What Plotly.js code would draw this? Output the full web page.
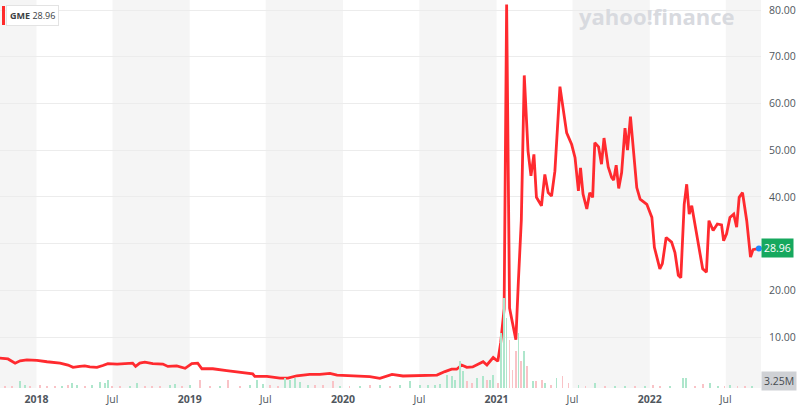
<!DOCTYPE html>
<html><head><meta charset="utf-8">
<script src="https://cdn.plot.ly/plotly-3.0.1.min.js"></script>
<style>html,body{margin:0;padding:0;background:#fff;}#chart{width:800px;height:417px;}</style>
</head><body><div id="chart"></div>
<script>
const symbol = "GME";
const lastPrice = 28.96;
const lastVolumeText = "3.25M";

const priceDates = [
"2017-10-02","2017-10-25","2017-11-11","2017-11-23","2017-12-09","2018-01-02","2018-01-26","2018-02-26","2018-03-17","2018-03-29",
"2018-04-14","2018-04-26","2018-05-08","2018-05-25","2018-06-08","2018-06-20","2018-07-12","2018-08-04","2018-08-18","2018-08-25",
"2018-09-04","2018-09-16","2018-10-05","2018-10-29","2018-11-10","2018-12-01","2018-12-21","2019-01-06","2019-01-20","2019-01-30",
"2019-02-25","2019-03-30","2019-04-23","2019-05-17","2019-05-31","2019-06-05","2019-07-04","2019-08-04","2019-08-23","2019-09-13",
"2019-10-14","2019-11-07","2019-12-01","2019-12-18","2020-01-25","2020-03-05","2020-03-29","2020-04-27","2020-05-23","2020-07-02",
"2020-08-12","2020-08-31","2020-09-16","2020-09-28","2020-10-10","2020-10-22","2020-11-05","2020-11-30","2020-12-09","2020-12-24",
"2021-01-04","2021-01-11","2021-01-19","2021-01-25","2021-02-01","2021-02-08","2021-02-16","2021-02-22","2021-03-01","2021-03-08",
"2021-03-17","2021-03-24","2021-03-31","2021-04-06","2021-04-18","2021-04-26","2021-05-04","2021-05-12","2021-05-20","2021-06-01",
"2021-06-17","2021-06-29","2021-07-07","2021-07-15","2021-07-20","2021-07-26","2021-08-04","2021-08-11","2021-08-18","2021-08-23",
"2021-09-01","2021-09-08","2021-09-14","2021-09-24","2021-10-02","2021-10-07","2021-10-13","2021-10-19","2021-10-26","2021-11-03",
"2021-11-09","2021-11-16","2021-11-23","2021-12-01","2021-12-09","2021-12-25","2022-01-06","2022-01-12","2022-01-25","2022-01-31",
"2022-02-09","2022-02-22","2022-03-02","2022-03-10","2022-03-16","2022-03-24","2022-03-30","2022-04-05","2022-04-11","2022-04-21",
"2022-04-29","2022-05-07","2022-05-16","2022-05-22","2022-06-01","2022-06-11","2022-06-21","2022-06-26","2022-07-03","2022-07-11",
"2022-07-20","2022-07-27","2022-08-02","2022-08-10","2022-08-20","2022-08-29","2022-09-04","2022-09-13","2022-09-18"
];
const priceValues = [
5.5,5.3,4.4,4.9,5.1,5.0,4.7,4.4,4.0,3.5,
3.7,3.8,3.6,3.5,3.9,4.3,4.2,4.3,4.4,3.7,
4.4,4.6,4.3,4.2,3.7,3.8,3.3,4.3,4.4,3.2,
3.2,2.8,2.55,2.4,2.1,1.55,1.55,1.2,1.2,1.7,
2.0,2.0,2.2,1.85,1.7,1.5,1.15,2.0,1.65,1.7,
1.85,2.6,3.1,3.1,4.0,3.5,3.6,4.7,4.0,5.6,
4.8,8.9,16.0,81.2,16.2,13.0,9.4,22.0,35.0,66.0,
49.8,44.5,49.1,39.9,38.1,44.8,40.9,40.2,45.5,63.6,
53.7,51.2,48.4,41.3,46.2,40.6,37.4,40.9,39.9,51.6,
50.7,47.0,52.6,46.4,44.2,43.6,46.8,41.8,45.2,54.7,
50.0,57.2,49.8,42.0,39.5,38.4,35.6,29.2,24.6,25.7,
31.3,30.3,28.1,23.2,22.7,38.4,42.7,36.3,38.1,32.8,
28.9,24.6,23.9,34.9,32.8,34.2,34.0,30.6,32.1,35.6,
36.3,33.5,39.9,40.9,34.9,27.1,28.7,28.9,28.96
];

// volume in millions of shares
const volDates = [
"2017-10-18","2017-11-03","2017-11-22","2017-12-04","2017-12-16","2018-01-09","2018-01-26","2018-02-14","2018-03-03","2018-03-17",
"2018-03-27","2018-04-07","2018-04-26","2018-05-13","2018-06-01","2018-06-13","2018-06-20","2018-06-30","2018-07-19","2018-08-12",
"2018-08-28","2018-09-16","2018-10-03","2018-10-22","2018-11-15","2018-11-27","2018-12-14","2019-01-02","2019-01-25","2019-02-18",
"2019-03-14","2019-04-02","2019-04-30","2019-05-24","2019-06-10","2019-06-24","2019-07-11","2019-07-30","2019-08-16","2019-08-28",
"2019-09-09","2019-09-21","2019-10-10","2019-10-26","2019-11-14","2019-12-08","2019-12-25","2020-01-17","2020-02-10","2020-03-05",
"2020-03-29","2020-04-22","2020-05-16","2020-06-08","2020-07-02","2020-07-21","2020-08-07","2020-08-19","2020-09-05","2020-09-17",
"2020-09-24","2020-10-06","2020-10-13","2020-10-22","2020-11-03","2020-11-15","2020-11-30","2020-12-09","2020-12-16","2020-12-24",
"2021-01-04","2021-01-11","2021-01-19","2021-01-25","2021-02-01","2021-02-08","2021-02-16","2021-02-22","2021-03-01","2021-03-08",
"2021-03-15","2021-03-29","2021-04-05","2021-04-19","2021-04-26","2021-05-10","2021-05-24","2021-06-07","2021-06-21","2021-07-15",
"2021-08-01","2021-08-23","2021-09-16","2021-10-10","2021-11-03","2021-11-27","2021-12-20","2022-01-08","2022-01-25","2022-02-18",
"2022-03-21","2022-03-28","2022-04-18","2022-05-08","2022-05-24","2022-06-12","2022-06-28","2022-07-11","2022-07-29","2022-08-16",
"2022-09-01"
];
const volValues = [
16,16,56,24,16,24,16,16,16,24,
40,24,16,24,48,40,64,16,16,16,
40,16,16,16,24,32,16,24,64,16,
16,64,16,24,64,32,24,16,80,64,
80,48,24,24,24,56,16,16,16,24,
24,16,24,56,24,24,24,32,104,96,
64,216,136,56,40,80,96,64,64,104,
40,440,720,560,384,144,296,440,216,296,
176,56,56,64,40,24,80,96,40,24,
16,40,16,16,16,16,16,24,16,16,
80,80,16,32,40,16,16,24,16,16,
16
];
const volUp = [
0,0,1,1,0,0,0,0,1,0,
1,1,0,1,1,1,1,0,0,1,
1,0,0,0,1,1,0,1,0,0,
1,0,0,1,1,1,0,0,1,1,
1,1,1,0,0,0,1,0,1,0,
1,0,1,1,1,1,1,1,1,1,
1,1,1,0,0,1,1,0,1,1,
0,1,1,1,0,0,0,1,0,1,
0,1,0,0,1,0,1,0,0,1,
0,1,0,1,1,0,1,0,0,1,
1,1,0,0,1,1,0,1,0,0,
1
];

const xTickVals = ["2018-01-01","2018-07-01","2019-01-01","2019-07-01","2020-01-01","2020-07-01","2021-01-01","2021-07-01","2022-01-01","2022-07-01"];
const xTickText = ["2018","Jul","2019","Jul","2020","Jul","2021","Jul","2022","Jul"];
const yTickVals = [10,20,30,40,50,60,70,80];

const xRange = ["2017-10-06","2022-09-23"];
const yRange = [-0.92, 82.15];

const up = "#aee6cc", down = "#f9c3c7";
const volColors = volUp.map(u => u ? up : down);

const shapes = [];
shapes.push({type:"rect", xref:"x", yref:"paper", x0:xRange[0], x1:xTickVals[0], y0:0, y1:1, fillcolor:"#f5f5f5", line:{width:0}, layer:"below"});
xTickVals.forEach((v,i)=>{
  if (xTickText[i]==="Jul") {
    const end = (i+1 < xTickVals.length) ? xTickVals[i+1] : xRange[1];
    shapes.push({type:"rect", xref:"x", yref:"paper", x0:v, x1:end, y0:0, y1:1, fillcolor:"#f5f5f5", line:{width:0}, layer:"below"});
  }
});
shapes.push({type:"rect", xref:"paper", yref:"paper", x0:0.0026, x1:0.0066, y0:1-25/388, y1:1-6/388, fillcolor:"#ff2a2a", line:{width:0}});

const traces = [
  {type:"bar", x:volDates, y:volValues, yaxis:"y2", marker:{color:volColors, line:{width:0}}, width:4*86400000, hoverinfo:"skip"},
  {type:"scatter", mode:"lines", x:priceDates, y:priceValues, line:{color:"#ff2a2f", width:2.8, shape:"linear"}, hoverinfo:"skip"},
  {type:"scatter", mode:"markers", x:[priceDates[priceDates.length-1]], y:[priceValues[priceValues.length-1]], marker:{color:"#1e88ff", size:6}, hoverinfo:"skip", cliponaxis:false}
];

const tickFont = {family:"Open Sans, Roboto, sans-serif", size:10.5, color:"#50575e"};
const yTickText = yTickVals.map(v => Math.abs(v - lastPrice) < 4 ? "" : v.toFixed(2));

const layout = {
  width:800, height:417,
  margin:{l:0, r:39, t:0, b:29},
  paper_bgcolor:"#ffffff", plot_bgcolor:"#ffffff",
  showlegend:false, bargap:0,
  xaxis:{type:"date", range:xRange, tickvals:xTickVals,
    ticktext:xTickText.map(t => t==="Jul" ? t : "<b>"+t+"</b>"),
    showgrid:false, zeroline:false, showline:false, ticks:"outside", ticklen:1, tickcolor:"rgba(0,0,0,0)", tickfont:tickFont, fixedrange:true},
  yaxis:{range:yRange, side:"right", tickvals:yTickVals, ticktext:yTickText, showgrid:true, gridcolor:"#ececec", gridwidth:1,
    zeroline:false, showline:false, ticks:"outside", ticklen:5, tickcolor:"rgba(0,0,0,0)", tickfont:tickFont, fixedrange:true},
  yaxis2:{overlaying:"y", range:[0,3104], visible:false, fixedrange:true},
  shapes:shapes,
  annotations:[
    {xref:"paper", yref:"paper", x:0.0075, y:1-15.5/388, xanchor:"left", yanchor:"middle", showarrow:false,
     text:"<b>"+symbol+"</b> "+lastPrice.toFixed(2), font:{family:"Open Sans, sans-serif", size:9, color:"#3c4043"},
     bgcolor:"#ffffff", bordercolor:"#e3e3e3", borderwidth:1, borderpad:3},
    {xref:"paper", yref:"paper", x:0.863, y:1, xanchor:"center", yanchor:"top", showarrow:false, borderpad:0,
     text:"<b>yahoo!finance</b>", font:{family:"Open Sans, sans-serif", size:22, color:"#d8dadf"}},
    {xref:"paper", yref:"y", x:1, y:lastPrice, xanchor:"left", yanchor:"middle", showarrow:false,
     text:lastPrice.toFixed(2), font:{family:"Open Sans, sans-serif", size:10.5, color:"#ffffff"},
     bgcolor:"#16a85e", borderpad:2},
    {xref:"paper", yref:"paper", x:1, y:7/388, xanchor:"left", yanchor:"middle", showarrow:false,
     text:lastVolumeText, font:{family:"Open Sans, sans-serif", size:10.5, color:"#464b50"},
     bgcolor:"#cfd1d5", borderpad:2}
  ]
};

Plotly.newPlot("chart", traces, layout, {staticPlot:true, displayModeBar:false});
</script>
</body></html>
